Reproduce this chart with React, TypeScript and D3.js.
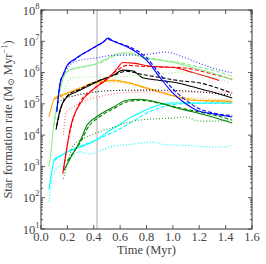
import * as d3 from 'd3';

// values (time in Myr, SFR in Msun/Myr)
const blueSolidT = [0.12, 0.145, 0.17, 0.2, 0.25, 0.3, 0.36, 0.42, 0.47, 0.51, 0.55, 0.62, 0.7, 0.8, 0.9, 1.0, 1.08, 1.18, 1.3, 1.45];
const blueSolidV = [5.5e4, 4.7e5, 8.9e5, 1.74e6, 2.6e6, 3.6e6, 5.0e6, 7.1e6, 9.3e6, 1.26e7, 1.0e7, 7.6e6, 5.2e6, 2.5e6, 7.2e5, 2.2e5, 1.15e5, 6.3e4, 4.8e4, 3.8e4];
const blueDashT = [0.12, 0.145, 0.17, 0.2, 0.25, 0.3, 0.36, 0.42, 0.47, 0.5, 0.54, 0.6, 0.7, 0.8, 0.9, 1.0, 1.1, 1.2, 1.3, 1.45];
const blueDashV = [6e4, 4.5e5, 9e5, 1.7e6, 2.5e6, 3.5e6, 5e6, 7e6, 9e6, 1.15e7, 1.05e7, 8.5e6, 5.8e6, 3e6, 9e5, 3e5, 1.3e5, 7e4, 5.2e4, 4.2e4];
const blueDotT = [0.15, 0.19, 0.25, 0.3, 0.43, 0.55, 0.67, 0.8, 0.95, 1.09, 1.2, 1.3, 1.45];
const blueDotV = [6e5, 1.2e6, 2.2e6, 2.5e6, 3.0e6, 3.6e6, 3.6e6, 3.8e6, 4.5e6, 3.0e6, 2.0e6, 1.4e6, 9.8e5];

const lgSolidT = [0.06, 0.08, 0.09, 0.12, 0.145, 0.17, 0.22, 0.3, 0.43, 0.55, 0.62, 0.7, 0.77, 0.9, 1.03, 1.2, 1.33, 1.45];
const lgSolidV = [1e3, 4e3, 1.26e4, 7.9e4, 2.75e5, 7.2e5, 1.26e6, 1.5e6, 2.0e6, 3.6e6, 4.3e6, 4e6, 2.95e6, 2.5e6, 2e6, 1.26e6, 8.9e5, 5.8e5];
const lgDashT = [0.1, 0.145, 0.17, 0.22, 0.3, 0.43, 0.55, 0.65, 0.75, 0.9, 1.05, 1.2, 1.35, 1.45];
const lgDashV = [2e4, 2.8e5, 7e5, 1.2e6, 1.45e6, 1.9e6, 3.2e6, 4.0e6, 3.4e6, 2.6e6, 2.1e6, 1.5e6, 1.05e6, 7.5e5];
const lgDotT = [0.15, 0.2, 0.23, 0.38, 0.55, 0.7, 0.83, 0.95, 1.09, 1.2, 1.3, 1.43];
const lgDotV = [1e5, 5e5, 6.8e5, 7.2e5, 7.2e5, 7.9e5, 8.3e5, 9.5e5, 1.05e6, 8.9e5, 7.1e5, 4.7e5];

const redSolidT = [0.165, 0.2, 0.22, 0.3, 0.39, 0.52, 0.58, 0.62, 0.7, 0.83, 0.95, 1.03, 1.15, 1.25, 1.35];
const redSolidV = [5.8e2, 4.9e3, 1.5e4, 1.07e5, 2.75e5, 7.2e5, 1.4e6, 2.1e6, 2e6, 1.6e6, 1.5e6, 1.4e6, 1e6, 7.6e5, 5.6e5];
const redDashT = [0.17, 0.2, 0.23, 0.3, 0.4, 0.5, 0.58, 0.65, 0.75, 0.9, 1.05, 1.2, 1.3, 1.4, 1.45];
const redDashV = [8e2, 5e3, 2e4, 1.2e5, 3e5, 6.5e5, 1.2e6, 1.7e6, 1.6e6, 1.5e6, 1.45e6, 1.15e6, 9e5, 7e5, 6e5];
const redDotT = [0.17, 0.19, 0.25, 0.3, 0.43, 0.52, 0.65, 0.8, 1.0, 1.2, 1.45];
const redDotV = [1e4, 5.5e4, 8e4, 1.07e5, 1.66e5, 2e5, 2.3e5, 2.4e5, 2.4e5, 2.4e5, 2.4e5];

const blackSolidT = [0.114, 0.144, 0.197, 0.3, 0.42, 0.55, 0.62, 0.7, 0.77, 0.9, 1.03, 1.15, 1.3, 1.45];
const blackSolidV = [1.5e4, 6.3e4, 1.66e5, 2.75e5, 5e5, 8.3e5, 1.2e6, 1.12e6, 6.8e5, 5.6e5, 4.7e5, 3.5e5, 2.4e5, 1.55e5];
const blackDashT = [0.12, 0.15, 0.2, 0.3, 0.42, 0.55, 0.65, 0.75, 0.9, 1.05, 1.2, 1.38, 1.45];
const blackDashV = [2e4, 7e4, 1.8e5, 3e5, 5.2e5, 8e5, 1.1e6, 9e5, 7e5, 5.5e5, 4.7e5, 2.8e5, 2.2e5];
const blackDotT = [0.13, 0.18, 0.25, 0.35, 0.45, 0.6, 0.8, 1.0, 1.2, 1.45];
const blackDotV = [1.1e5, 1.5e5, 1.8e5, 2.2e5, 2.5e5, 2.7e5, 2.75e5, 2.7e5, 2.4e5, 1.9e5];

const orangeSolidT = [0.06, 0.106, 0.2, 0.3, 0.39, 0.48, 0.55, 0.62, 0.67, 0.8, 0.9, 1.03, 1.15, 1.3, 1.45];
const orangeSolidV = [3.8e4, 1.55e5, 2.2e5, 3.2e5, 4.7e5, 5.2e5, 5.8e5, 5.2e5, 4.7e5, 3.2e5, 2.4e5, 1.66e5, 1.3e5, 1.26e5, 1.2e5];
const orangeDashT = [0.1, 0.2, 0.3, 0.4, 0.5, 0.6, 0.7, 0.85, 1.0, 1.15, 1.3, 1.45];
const orangeDashV = [1.4e5, 2.1e5, 3e5, 4.5e5, 5.5e5, 5.3e5, 4.3e5, 2.8e5, 1.8e5, 1.35e5, 1.2e5, 1.15e5];
const orangeDotT = [0.1, 0.2, 0.3, 0.4, 0.5, 0.6, 0.7, 0.85, 1.0, 1.15, 1.3, 1.45];
const orangeDotV = [1.5e5, 2.3e5, 3.3e5, 4.3e5, 5e5, 4.8e5, 4e5, 2.7e5, 1.9e5, 1.5e5, 1.4e5, 1.35e5];

const greenSolidT = [0.17, 0.22, 0.3, 0.35, 0.42, 0.55, 0.65, 0.75, 0.9, 1.03, 1.15, 1.3, 1.45];
const greenSolidV = [7e2, 1.74e3, 7e3, 2.1e4, 3.8e4, 7.9e4, 1.3e5, 1.4e5, 1.07e5, 7.4e4, 5.6e4, 3.8e4, 2.45e4];
const greenDashT = [0.2, 0.25, 0.3, 0.35, 0.45, 0.55, 0.65, 0.75, 0.9, 1.05, 1.2, 1.35, 1.45];
const greenDashV = [1.5e3, 3e3, 6e3, 1.6e4, 4e4, 7e4, 1.15e5, 1.3e5, 1.05e5, 7.5e4, 5.5e4, 4e4, 3e4];
const greenDotT = [0.17, 0.2, 0.25, 0.38, 0.55, 0.7, 0.85, 1.0, 1.09, 1.2, 1.3, 1.43];
const greenDotV = [4e2, 1.26e3, 4.9e3, 1e4, 1.8e4, 2.8e4, 3.3e4, 3.5e4, 3.8e4, 2.8e4, 2.8e4, 3.1e4];

const cyanSolidT = [0.06, 0.106, 0.15, 0.2, 0.3, 0.42, 0.52, 0.6, 0.67, 0.75, 0.83, 0.98, 1.1, 1.25, 1.45];
const cyanSolidV = [1.8e2, 1.74e3, 2.2e3, 2.9e3, 4.2e3, 7.1e3, 1.4e4, 2.2e4, 3.5e4, 5.2e4, 7.4e4, 1.07e5, 1.07e5, 1.07e5, 1.07e5];
const cyanDashT = [0.1, 0.2, 0.3, 0.4, 0.52, 0.6, 0.7, 0.8, 0.9, 1.0, 1.2, 1.45];
const cyanDashV = [1.5e3, 3e3, 4.5e3, 6.5e3, 1.1e4, 1.6e4, 2.8e4, 5e4, 7.5e4, 9.5e4, 1.05e5, 1.05e5];
const cyanDotT = [0.06, 0.09, 0.2, 0.3, 0.37, 0.52, 0.7, 0.85, 0.95, 1.1, 1.28, 1.4, 1.45];
const cyanDotV = [74, 5.4e2, 1.6e3, 2.9e3, 2.5e3, 4.2e3, 5.2e3, 6e3, 4.9e3, 4.7e3, 4.2e3, 4.2e3, 4.9e3];

const markerTime = 0.425;
const xTicks = [0, 0.2, 0.4, 0.6, 0.8, 1.0, 1.2, 1.4, 1.6];
const yExponents = [1, 2, 3, 4, 5, 6, 7, 8];

const series = [
  { t: cyanDotT, v: cyanDotV, color: '#00ffff', dash: '1,2' },
  { t: cyanDashT, v: cyanDashV, color: '#00ffff', dash: '4,2' },
  { t: cyanSolidT, v: cyanSolidV, color: '#00ffff', dash: null },
  { t: greenDotT, v: greenDotV, color: '#2e9e2e', dash: '1,2' },
  { t: greenDashT, v: greenDashV, color: '#008000', dash: '4,2' },
  { t: greenSolidT, v: greenSolidV, color: '#008000', dash: null },
  { t: orangeDotT, v: orangeDotV, color: '#ffa500', dash: '1,2' },
  { t: orangeDashT, v: orangeDashV, color: '#ffa500', dash: '4,2' },
  { t: orangeSolidT, v: orangeSolidV, color: '#ffa500', dash: null },
  { t: blackDotT, v: blackDotV, color: '#000000', dash: '1,2' },
  { t: blackDashT, v: blackDashV, color: '#000000', dash: '4,2' },
  { t: blackSolidT, v: blackSolidV, color: '#000000', dash: null },
  { t: redDotT, v: redDotV, color: '#ff6a6a', dash: '1,2' },
  { t: redDashT, v: redDashV, color: '#ff0000', dash: '4,2' },
  { t: redSolidT, v: redSolidV, color: '#ff0000', dash: null },
  { t: lgDotT, v: lgDotV, color: '#90ee90', dash: '1,2' },
  { t: lgDashT, v: lgDashV, color: '#90ee90', dash: '4,2' },
  { t: lgSolidT, v: lgSolidV, color: '#90ee90', dash: null },
  { t: blueDotT, v: blueDotV, color: '#3333ff', dash: '1,2' },
  { t: blueDashT, v: blueDashV, color: '#0000ff', dash: '4,2' },
  { t: blueSolidT, v: blueSolidV, color: '#0000ff', dash: null },
];

const W = 266;
const H = 264;
const margin = { top: 10, right: 14, bottom: 35, left: 41 };
const font = '"Liberation Serif", "DejaVu Serif", serif';

export default function App() {
  const x = d3.scaleLinear().domain([0, 1.6]).range([margin.left, W - margin.right]);
  const y = d3.scaleLog().domain([10, 1e8]).range([H - margin.bottom, margin.top]);
  const line = d3
    .line<[number, number]>()
    .x(d => x(d[0]))
    .y(d => y(d[1]))
    .curve(d3.curveMonotoneX);

  const minor: number[] = [];
  for (let e = 1; e < 8; e++) for (let m = 2; m < 10; m++) minor.push(m * Math.pow(10, e));

  const x0 = x(0), x1 = x(1.6), y0 = y(10), y1 = y(1e8);
  const axisColor = '#333';

  return (
    <svg width={W} height={H} style={{ position: 'absolute', left: 0, top: 0 }} fontFamily={font}>
      <rect width={W} height={H} fill="#fff" />
      <line x1={x(markerTime)} x2={x(markerTime)} y1={y0} y2={y1} stroke="#aaa" strokeWidth={1} />
      <g fill="none" strokeWidth={1.1}>
        {series.map((s, i) => (
          <path
            key={i}
            d={line(s.t.map((t, j) => [t, s.v[j]] as [number, number])) ?? ''}
            stroke={s.color}
            strokeDasharray={s.dash ?? undefined}
          />
        ))}
      </g>
      <rect x={x0} y={y1} width={x1 - x0} height={y0 - y1} fill="none" stroke={axisColor} strokeWidth={1} />
      <g stroke={axisColor} strokeWidth={0.8}>
        {xTicks.map(t => (
          <g key={t}>
            <line x1={x(t)} x2={x(t)} y1={y0} y2={y0 - 4} />
            <line x1={x(t)} x2={x(t)} y1={y1} y2={y1 + 4} />
          </g>
        ))}
        {yExponents.map(e => (
          <g key={e}>
            <line x1={x0} x2={x0 + 4} y1={y(Math.pow(10, e))} y2={y(Math.pow(10, e))} />
            <line x1={x1} x2={x1 - 4} y1={y(Math.pow(10, e))} y2={y(Math.pow(10, e))} />
          </g>
        ))}
        {minor.map(v => (
          <g key={v}>
            <line x1={x0} x2={x0 + 2} y1={y(v)} y2={y(v)} />
            <line x1={x1} x2={x1 - 2} y1={y(v)} y2={y(v)} />
          </g>
        ))}
      </g>
      <g fill="#444" fontSize={12.5}>
        {xTicks.map(t => (
          <text key={t} x={x(t)} y={y0 + 12} textAnchor="middle">
            {t.toFixed(1)}
          </text>
        ))}
        {yExponents.map(e => (
          <text key={e} x={x0 - 1.5} y={y(Math.pow(10, e)) + 4.5} textAnchor="end">
            10<tspan fontSize={8.5} dy={-6}>{e}</tspan>
          </text>
        ))}
      </g>
      <text x={(x0 + x1) / 2} y={H - 10} textAnchor="middle" fontSize={12.5} fill="#444">
        Time (Myr)
      </text>
      <text
        transform={`translate(12,${(y0 + y1) / 2}) rotate(-90)`}
        textAnchor="middle"
        fontSize={12.5}
        fill="#444"
      >
        Star formation rate (M<tspan fontSize={9} dy={2}>⊙</tspan>
        <tspan dy={-2}> Myr</tspan>
        <tspan fontSize={8.5} dy={-5}>−1</tspan>
        <tspan dy={5}>)</tspan>
      </text>
    </svg>
  );
}
